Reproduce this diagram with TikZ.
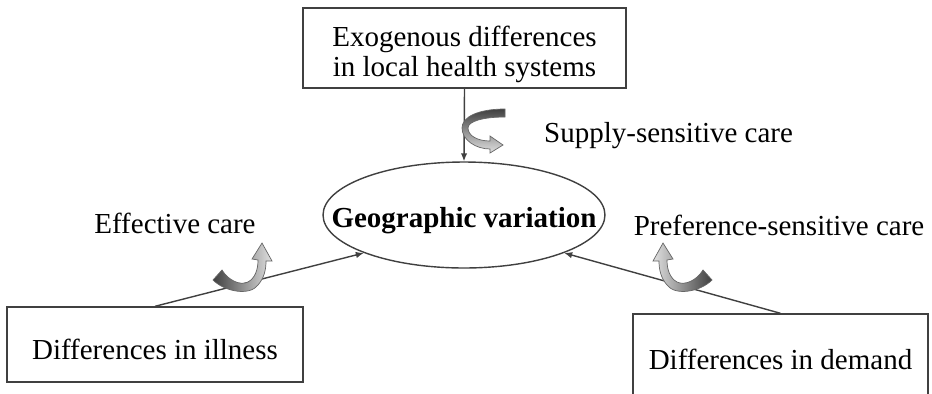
\documentclass[tikz,border=0pt]{standalone}
\usepackage{fontspec}
\setmainfont{Liberation Serif}
\usetikzlibrary{shapes}
\usetikzlibrary{positioning}
\usetikzlibrary{arrows.meta}
\tikzset{box/.style={draw=black!75, line width=0.8pt, rectangle, inner sep=2pt},
            link/.style={draw=black!75, line width=0.8pt,
                -{Latex[length=1.6mm,width=1.3mm]}},
            twist/.style={draw=black!60, line width=0.4pt, #1}}

\begin{document}
\begin{tikzpicture}[x=0.02cm, y=-0.02cm, font=\fontsize{16.5}{17.1}\selectfont]
\useasboundingbox (0,0) rectangle (932,393);
\node [box, minimum width=6.46cm, minimum height=1.6cm, align=center] (exo)
    at (464.5,48) {\rule{0pt}{0.68cm}Exogenous differences\\in local health systems};
\node [draw=black!75, line width=0.8pt, ellipse, inner xsep=-0.7cm, inner ysep=0pt,
    minimum width=5.64cm, minimum height=2.12cm, text height=0.6cm, text depth=0.12cm,
    font=\fontsize{16.5}{17.1}\selectfont\bfseries]
    (geo) at (464,215) {Geographic variation};
\node [box, minimum width=5.92cm, minimum height=1.5cm, text height=0.7cm,
    text depth=0.12cm] (ill) at (155,344.5) {Differences in illness};
\node [box, minimum width=5.9cm, minimum height=1.72cm, text height=0.6cm,
    text depth=0.12cm] (dem) at (780.5,357) {Differences in demand};
%
\node [anchor=west] (supply) at (538,136) {Supply-sensitive care};
\node (eff) at (175,223) {Effective care};
\node (pref) at (779,225) {Preference-sensitive care};
%
\draw [link] (exo.south) -- (geo.north);
\draw [link] (ill.north) -- (geo.south west);
\draw [link] (dem.north) -- (geo.south east);
%
\path [twist={top color=black!75, bottom color=black!12}]
    (505,109) .. controls (478,109) and (462,117) .. (462,128)
    .. controls (462,140) and (476,149) .. (490,149) -- (490,153)
    -- (503,145) -- (490,136) -- (490,141)
    .. controls (478,141) and (468,136) .. (468,128)
    .. controls (468,121) and (484,117) .. (505,117) -- cycle;
\path [twist={left color=black!75, right color=black!12}]
    (213,280) .. controls (225,292) and (250,296) .. (258,285)
    .. controls (264,278) and (266,270) .. (266,261) -- (272,261)
    -- (262,243) -- (252,259) -- (258,260)
    .. controls (258,270) and (255,278) .. (248,282)
    .. controls (240,286) and (228,280) .. (222,270) -- cycle;
\path [twist={left color=black!12, right color=black!75}]
    (712,280) .. controls (700,292) and (675,296) .. (667,285)
    .. controls (661,278) and (659,270) .. (659,261) -- (653,261)
    -- (663,243) -- (673,259) -- (667,260)
    .. controls (667,270) and (670,278) .. (677,282)
    .. controls (685,286) and (697,280) .. (703,270) -- cycle;
\end{tikzpicture}
\end{document}
